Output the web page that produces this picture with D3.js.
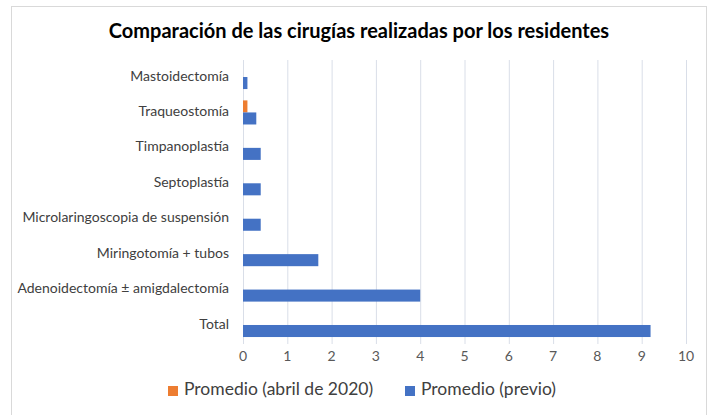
<html>
<head>
    <script src="https://cdn.jsdelivr.net/npm/d3@7"></script>
    <style>
        body { margin: 0; background: white; font-family: Lato, "Open Sans", sans-serif; }
        svg { display: block; }
    </style>
</head>
<body>
<svg id="chart"></svg>
<script>
    // data
    const categories = ["Mastoidectomía", "Traqueostomía", "Timpanoplastía", "Septoplastía",
        "Microlaringoscopia de suspensión", "Miringotomía + tubos",
        "Adenoidectomía ± amigdalectomía", "Total"];
    const seriesNames = ["Promedio (abril de 2020)", "Promedio (previo)"];
    const abril2020 = [0, 0.1, 0, 0, 0, 0, 0, 0];
    const previo = [0.1, 0.3, 0.4, 0.4, 0.4, 1.7, 4.0, 9.2];
    const xTicks = [0, 1, 2, 3, 4, 5, 6, 7, 8, 9, 10];
    const colors = ["#ED7D31", "#4472C4"];

    const width = 710, height = 415;
    const svg = d3.select("#chart").attr("width", width).attr("height", height);

    // chart frame
    svg.append("rect")
        .attr("x", 11.5).attr("y", 6.5)
        .attr("width", 695).attr("height", 420)
        .attr("fill", "white").attr("stroke", "#D9D9D9");

    svg.append("text")
        .attr("x", 359).attr("y", 38)
        .attr("text-anchor", "middle")
        .style("font-size", "20px").style("font-weight", "bold")
        .attr("fill", "#000")
        .text("Comparación de las cirugías realizadas por los residentes");

    let x = d3.scaleLinear().domain([0, 10]).range([243, 686]);
    let y = d3.scaleBand().domain(categories).range([59.3, 342.7]).paddingInner(0.32).paddingOuter(0.16);
    let ySub = d3.scaleBand().domain([0, 1]).range([0, y.bandwidth()]);

    // gridlines
    svg.append("g").selectAll("line").data(xTicks).enter().append("line")
        .attr("x1", d => x(d) + 0.5).attr("x2", d => x(d) + 0.5)
        .attr("y1", 60).attr("y2", 344)
        .attr("stroke", "#D9DEE8").attr("stroke-width", 1);

    // tick labels
    svg.append("g").selectAll("text").data(xTicks).enter().append("text")
        .attr("x", d => x(d)).attr("y", 361)
        .attr("text-anchor", "middle")
        .style("font-size", "14px").attr("fill", "#595959")
        .text(d => d);

    // category labels
    svg.append("g").selectAll("text").data(categories).enter().append("text")
        .attr("x", 229)
        .attr("y", d => y(d) + y.bandwidth() / 2)
        .attr("text-anchor", "end")
        .attr("dominant-baseline", "middle")
        .style("font-size", "14px").attr("fill", "#404040")
        .text(d => d);

    const series = [abril2020, previo];
    series.forEach((vals, s) => {
        svg.append("g").selectAll("rect").data(vals).enter().append("rect")
            .attr("x", x(0))
            .attr("y", (d, i) => y(categories[i]) + ySub(s))
            .attr("width", d => x(d) - x(0))
            .attr("height", ySub.bandwidth())
            .attr("fill", colors[s]);
    });

    // legend
    const legendX = [168, 405];
    const legend = svg.selectAll(".legend").data(seriesNames).enter().append("g")
        .attr("class", "legend")
        .attr("transform", (d, i) => "translate(" + legendX[i] + ",386)");
    legend.append("rect")
        .attr("width", 10).attr("height", 10)
        .attr("fill", (d, i) => colors[i]);
    legend.append("text")
        .attr("x", 16).attr("y", 5)
        .attr("dominant-baseline", "middle")
        .style("font-size", "17.5px").attr("fill", "#404040")
        .text(d => d);
</script>
</body>
</html>
